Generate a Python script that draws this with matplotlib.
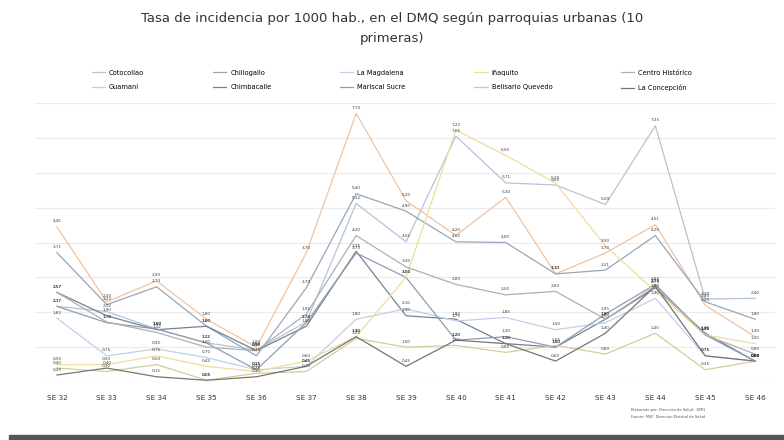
import matplotlib
matplotlib.use("Agg")
import matplotlib.pyplot as plt
import numpy as np

# Semanas epidemiológicas
semanas = ['SE 32', 'SE 33', 'SE 34', 'SE 35', 'SE 36', 'SE 37', 'SE 38', 'SE 39',
           'SE 40', 'SE 41', 'SE 42', 'SE 43', 'SE 44', 'SE 45', 'SE 46']

# Tasas por parroquia
cotocollao = [2.17, 2.02, 1.52, 1.12, 0.92, 1.72, 5.12, 4.02, 7.05, 5.71, 5.65, 5.09, 7.35, 2.38, 2.40]
guamani = [4.45, 2.30, 2.90, 1.80, 1.00, 3.70, 7.70, 5.20, 4.20, 5.30, 3.10, 3.70, 4.51, 2.20, 1.30]
chillogallo = [3.71, 2.22, 2.73, 1.60, 0.75, 2.70, 5.40, 4.90, 4.02, 4.00, 3.10, 3.21, 4.20, 2.30, 1.80]
chimbacalle = [2.57, 1.90, 1.50, 1.60, 0.90, 1.60, 3.75, 1.90, 1.80, 1.10, 1.00, 1.80, 2.70, 1.40, 0.60]
la_magdalena = [1.83, 0.75, 0.95, 0.70, 0.35, 0.45, 1.80, 2.10, 1.75, 1.85, 1.50, 1.70, 2.40, 0.75, 0.60]
mariscal_sucre = [2.17, 1.70, 1.52, 1.12, 0.35, 1.70, 3.70, 3.00, 1.20, 1.30, 1.00, 1.95, 2.80, 1.35, 0.60]
inaquito = [0.50, 0.50, 0.75, 0.45, 0.30, 0.60, 1.30, 3.00, 7.22, 6.50, 5.70, 3.90, 2.60, 1.35, 1.10]
belisario = [0.40, 0.30, 0.50, 0.05, 0.25, 0.30, 1.25, 1.00, 1.05, 0.85, 1.05, 0.80, 1.40, 0.35, 0.60]
centro_historico = [2.57, 1.72, 1.42, 1.00, 0.90, 1.95, 4.20, 3.30, 2.80, 2.50, 2.60, 1.80, 2.75, 1.35, 0.80]
la_concepcion = [0.20, 0.40, 0.15, 0.05, 0.15, 0.45, 1.30, 0.45, 1.20, 1.10, 0.60, 1.40, 2.75, 0.75, 0.60]

series = [
    ('Cotocollao', cotocollao, '#b3c5d8'),
    ('Guamaní', guamani, '#efc3a2'),
    ('Chillogallo', chillogallo, '#97a6ba'),
    ('Chimbacalle', chimbacalle, '#76838f'),
    ('La Magdalena', la_magdalena, '#c0d0e6'),
    ('Mariscal Sucre', mariscal_sucre, '#8f9db0'),
    ('Iñaquito', inaquito, '#f0dd9c'),
    ('Belisario Quevedo', belisario, '#d3cd9c'),
    ('Centro Histórico', centro_historico, '#b0b0b0'),
    ('La Concepción', la_concepcion, '#767676'),
]

fig = plt.figure(figsize=(7.84, 4.4), dpi=100)
ax = fig.add_axes([0.0446, 0.1318, 0.944, 0.634])

x = np.arange(len(semanas))
for nombre, vals, color in series:
    ax.plot(x, vals, color=color, linewidth=0.9, label=nombre)
    for xi, v in zip(x, vals):
        ax.annotate(f'{v:.2f}'.replace('.', ','), (xi, v), xytext=(0, 2.5),
                    textcoords='offset points', ha='center', va='bottom',
                    fontsize=3.0, color='#404040')

ax.set_xlim(-0.44, len(semanas) - 0.6)
ax.set_ylim(0, 8)
ax.set_yticks(np.arange(0, 9, 1))
ax.set_yticklabels([])
ax.tick_params(axis='y', length=0)
ax.tick_params(axis='x', length=0, pad=9, labelsize=5.2, labelcolor='#333333')
ax.set_xticks(x)
ax.set_xticklabels(semanas)
ax.grid(axis='y', color='#ebebeb', linewidth=0.8)
ax.set_axisbelow(True)
for s in ax.spines.values():
    s.set_visible(False)

fig.text(0.5, 0.958, 'Tasa de incidencia por 1000 hab., en el DMQ según parroquias urbanas (10',
         ha='center', va='center', fontsize=9.5, color='#333333')
fig.text(0.5, 0.912, 'primeras)', ha='center', va='center', fontsize=9.5, color='#333333')

fig.legend(loc='center', bbox_to_anchor=(0.5, 0.817), ncol=5, frameon=False,
           fontsize=4.8, handlelength=2.0, columnspacing=10.3, handletextpad=0.6,
           labelspacing=1.3)

fig.text(0.852, 0.066, 'Elaborado por: Dirección de Salud - DMQ', ha='center',
         fontsize=2.6, color='#555555')
fig.text(0.852, 0.049, 'Fuente: MSP, Dirección Distrital de Salud', ha='center',
         fontsize=2.6, color='#555555')

# barra inferior
fig.patches.append(plt.Rectangle((0.012, 0.0), 0.988, 0.012, transform=fig.transFigure,
                                 color='#555555', zorder=0))

fig.savefig('out.png', dpi=100)
